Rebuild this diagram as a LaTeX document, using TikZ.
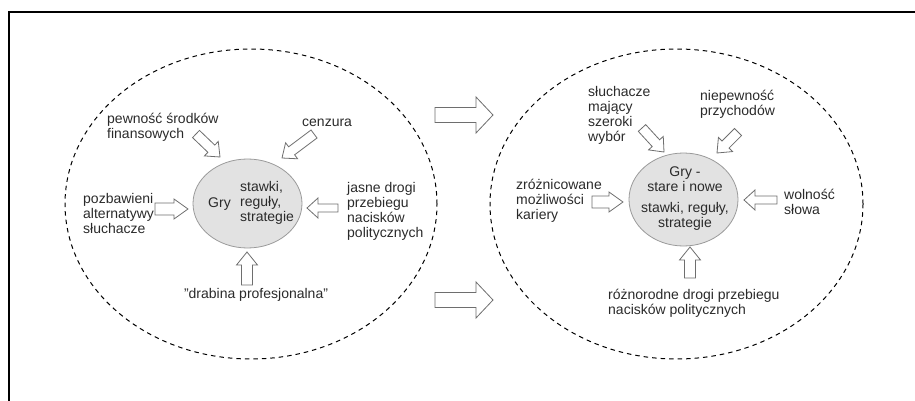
\documentclass[tikz,border=0pt]{standalone}
\usepackage{fontspec}
\setmainfont{Liberation Sans}
\usetikzlibrary{calc,shapes.geometric}
\definecolor{txt}{HTML}{2A2A2A}
\definecolor{arr}{HTML}{6E6E6E}
\definecolor{ellfill}{HTML}{E2E2E2}
\definecolor{ellline}{HTML}{9A9A9A}
% #1 tail, #2 tip, #3 body half-width, #4 head half-width, #5 head length
\newcommand\blockarrow[5]{%
  \draw[barrow] ($(#1)!#3!90:(#2)$) -- ($(#2)!#5!(#1)!#3!-90:(#1)$)
    -- ($(#2)!#5!(#1)!#4!-90:(#1)$) -- (#2)
    -- ($(#2)!#5!(#1)!#4!90:(#1)$) -- ($(#2)!#5!(#1)!#3!90:(#1)$)
    -- ($(#1)!#3!-90:(#2)$) -- cycle;}
\begin{document}
\begin{tikzpicture}[x=1pt,y=-1pt,
  lbl/.style={font=\fontsize{14}{15}\selectfont, text=txt, inner sep=0pt, align=left},
  clbl/.style={lbl, align=center},
  outer/.style={draw, ellipse, dashed, dash pattern=on 4.5pt off 4pt, line width=1pt, inner sep=0pt},
  inner/.style={draw=ellline, fill=ellfill, ellipse, line width=0.8pt, inner sep=0pt},
  barrow/.style={draw=arr, fill=white, line width=0.8pt, line join=miter}]
\useasboundingbox (0,0) rectangle (915,401);
\draw[line width=1.2pt] (9,401) -- (9,12) -- (915,12);

% left group
\node[outer, minimum width=372pt, minimum height=310pt] (LO) at (251,204) {};
\node[inner, minimum width=109pt, minimum height=89pt] (LI) at (247.5,203.5) {};
\node[lbl, anchor=center] (gryL) at (219.5,204) {Gry};
\node[lbl, anchor=west] (stL) at (240,202.5) {stawki,\\reguły,\\strategie};
\node[lbl, anchor=west] (pew) at (107,127.5) {pewność środków\\finansowych};
\node[lbl, anchor=west] (cen) at (302,123) {cenzura};
\node[lbl, anchor=west] (poz) at (83,213) {pozbawieni\\alternatywy\\słuchacze};
\node[lbl, anchor=west] (jas) at (347,211.5) {jasne drogi\\przebiegu\\nacisków\\politycznych};
\node[lbl, anchor=center] (dra) at (256,295) {"drabina profesjonalna"};

% right group
\node[outer, minimum width=373pt, minimum height=310pt] (RO) at (676.5,204) {};
\node[inner, minimum width=109pt, minimum height=93pt] (RI) at (683.5,199.5) {};
\node[clbl, anchor=center] (gryR) at (685,179.5) {Gry -\\stare i nowe};
\node[clbl, anchor=center] (stR) at (685,216) {stawki, reguły,\\strategie};
\node[lbl, anchor=west] (slu) at (588,115.5) {słuchacze\\mający\\szeroki\\wybór};
\node[lbl, anchor=west] (nie) at (700,104.5) {niepewność\\przychodów};
\node[lbl, anchor=west] (zro) at (516,200.5) {zróżnicowane\\możliwości\\kariery};
\node[lbl, anchor=west] (wol) at (784,201.5) {wolność\\słowa};
\node[lbl, anchor=west] (roz) at (608,303.5) {różnorodne drogi przebiegu\\nacisków politycznych};

% arrow end points
\coordinate (pA1) at (196,134);  \coordinate (pA2) at (220,157);
\coordinate (cA1) at (314,134);  \coordinate (cA2) at (282,158);
\coordinate (zA1) at (155,209);  \coordinate (zA2) at (188,209);
\coordinate (jA1) at (338,208);  \coordinate (jA2) at (307,208);
\coordinate (dA1) at (247,285);  \coordinate (dA2) at (247,252);
\coordinate (sA1) at (642,128);  \coordinate (sA2) at (664,152);
\coordinate (nA1) at (738,132);  \coordinate (nA2) at (717,153);
\coordinate (rzA1) at (592,202); \coordinate (rzA2) at (623,202);
\coordinate (wA1) at (777,200);  \coordinate (wA2) at (744,200);
\coordinate (rA1) at (690,278);  \coordinate (rA2) at (690,247);
\coordinate (b1a) at (435,115);  \coordinate (b1b) at (493,115);
\coordinate (b2a) at (435,300);  \coordinate (b2b) at (493,300);

\blockarrow{pA1}{pA2}{5pt}{10pt}{12pt}
\blockarrow{cA1}{cA2}{5pt}{10pt}{12pt}
\blockarrow{zA1}{zA2}{6pt}{10pt}{14pt}
\blockarrow{jA1}{jA2}{4pt}{10pt}{11pt}
\blockarrow{dA1}{dA2}{5.5pt}{10.5pt}{13pt}
\blockarrow{sA1}{sA2}{5pt}{10pt}{12pt}
\blockarrow{nA1}{nA2}{5pt}{10pt}{12pt}
\blockarrow{rzA1}{rzA2}{6pt}{10pt}{14pt}
\blockarrow{wA1}{wA2}{4pt}{10pt}{11pt}
\blockarrow{rA1}{rA2}{5.5pt}{10.5pt}{13pt}
\blockarrow{b1a}{b1b}{7.5pt}{18pt}{17pt}
\blockarrow{b2a}{b2b}{7.5pt}{18pt}{17pt}
\end{tikzpicture}
\end{document}
